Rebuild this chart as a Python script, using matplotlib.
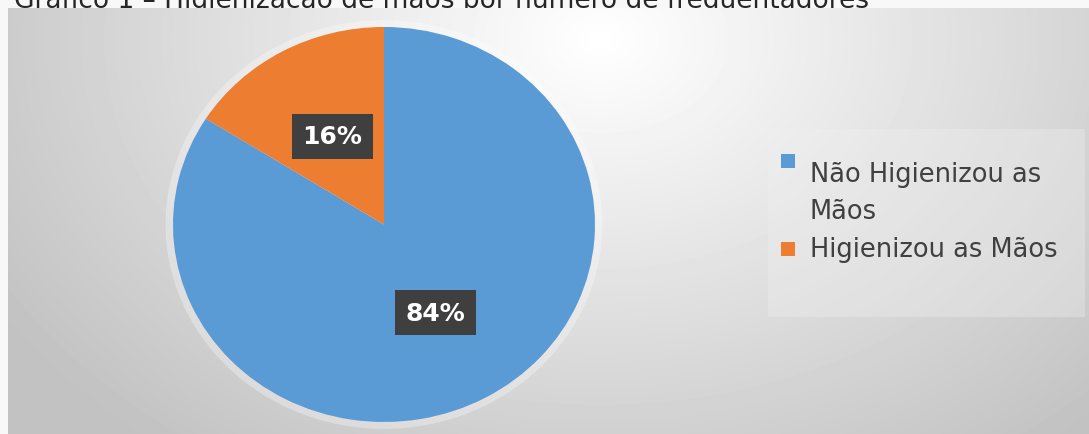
import numpy as np
import matplotlib.pyplot as plt
from matplotlib.patches import Rectangle, Ellipse

# ── Dados ───────────────────────────────────────────────────────────────────
categorias  = ["Não Higienizou as\nMãos", "Higienizou as Mãos"]
percentuais = [84, 16]
cores       = ["#5B9BD5", "#ED7D31"]
titulo      = "Gráfico 1 – Higienização de mãos por número de frequentadores"

W, H = 1089, 435


def px(x0, y0, x1, y1):
    """caixa em pixels (origem no topo) -> retângulo em fração da figura"""
    return [x0 / W, 1 - y1 / H, (x1 - x0) / W, (y1 - y0) / H]


fig = plt.figure(figsize=(W / 100, H / 100), dpi=100)
fig.patch.set_facecolor("#f8f8f8")

# título: só a parte de baixo aparece, o resto fica escondido como no original
fig.text(14 / W, 1 - 8 / H, titulo, fontsize=19, color="#262626",
         ha="left", va="baseline", zorder=-1)

# ── Fundo do gráfico (gradiente radial) ─────────────────────────────────────
ax_bg = fig.add_axes(px(8, 9, W, H))
yy, xx = np.mgrid[9:H, 8:W]
d = np.sqrt(((xx - 600) / 680) ** 2 + ((yy - 40) / 500) ** 2)
g = np.clip(1 - 0.23 * d, 0.76, 1)
ax_bg.imshow(g, cmap="gray", vmin=0, vmax=1, aspect="auto",
             extent=[0, 1, 0, 1], interpolation="bilinear")
ax_bg.axis("off")

# ── Pizza ───────────────────────────────────────────────────────────────────
ax = fig.add_axes(px(173, 28, 595, 423))
ax.add_patch(Ellipse((0, 0), 2.07, 2.07, facecolor="white", alpha=0.3,
                     linewidth=0, zorder=0, clip_on=False))
wedges, _, autotexts = ax.pie(
    percentuais, colors=cores, startangle=90, counterclock=False,
    autopct="%1.0f%%", pctdistance=0.51,
    wedgeprops=dict(linewidth=0),
)
for t in autotexts:
    t.set_color("white")
    t.set_fontsize(18)
    t.set_fontweight("bold")
    t.set_bbox(dict(boxstyle="square,pad=0.42", facecolor="#3f3f3f",
                    edgecolor="none"))
ax.set_aspect("auto")
ax.set_xlim(-1, 1)
ax.set_ylim(-1, 1)
ax.axis("off")

# ── Legenda ─────────────────────────────────────────────────────────────────
ax_lg = fig.add_axes([0, 0, 1, 1], facecolor="none")
ax_lg.set_xlim(0, W)
ax_lg.set_ylim(H, 0)
ax_lg.axis("off")
ax_lg.add_patch(Rectangle((768, 130), 317, 188, facecolor="#f0f0f0",
                          edgecolor="none", alpha=0.35))
for i, (cat, cor) in enumerate(zip(categorias, cores)):
    y0 = 162 + i * 88
    ax_lg.add_patch(Rectangle((781, y0 - 7), 14, 14, facecolor=cor,
                              edgecolor="none"))
    ax_lg.text(810, y0, cat, fontsize=18.5, color="#404040", ha="left",
               va="top" if "\n" in cat else "center",
               linespacing=1.55)

fig.savefig("out.png", dpi=100)
